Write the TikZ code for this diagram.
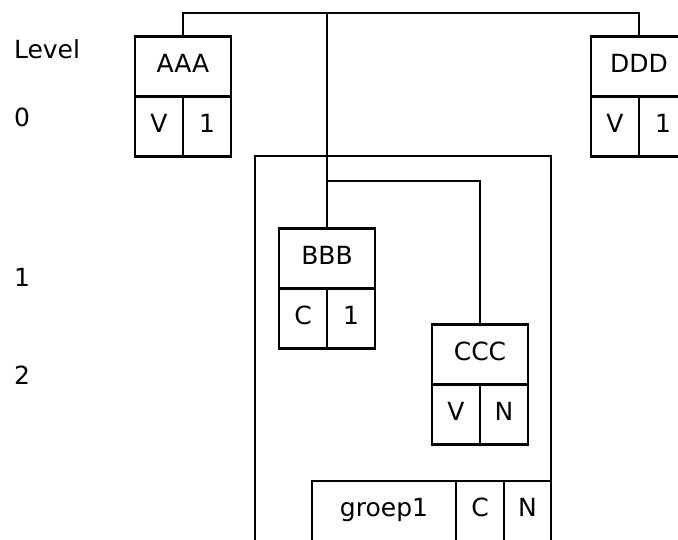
\documentclass[tikz,border=0pt]{standalone}
\usepackage{fontspec}
\setmainfont{DejaVu Sans}
\begin{document}
\begin{tikzpicture}[x=1pt,y=-1pt,
  line width=2.1pt,
  cell/.style={draw, line width=2.1pt, inner sep=0pt, minimum height=60pt,
    text height=18pt, text depth=7pt, font=\fontsize{25}{28}\selectfont},
  wide/.style={cell, minimum width=96pt},
  half/.style={cell, minimum width=48pt},
  lbl/.style={anchor=base west, inner sep=0pt, font=\fontsize{25}{28}\selectfont}]
\clip (0,0) rectangle (678,539);
\fill[white] (0,0) rectangle (678,539);

% level labels
\node[lbl] (lvl) at (13,58.3) {Level};
\node[lbl] (l0) at (13,126.7) {0};
\node[lbl] (l1) at (13,286.7) {1};
\node[lbl] (l2) at (13,384) {2};

% outer group frame (open at bottom)
\coordinate (fbl) at (255,560);
\coordinate (fbr) at (551,560);
\draw (fbl) |- (fbr |- 0,156) -- (fbr);

% AAA
\node[wide] (aaaT) at (183,66.5) {AAA};
\node[half] (aaaL) at (159,126.5) {V};
\node[half] (aaaR) at (207,126.5) {1};
% DDD
\node[wide] (dddT) at (639,66.5) {DDD};
\node[half] (dddL) at (615,126.5) {V};
\node[half] (dddR) at (663,126.5) {1};
% BBB
\node[wide] (bbbT) at (327,258.5) {BBB};
\node[half] (bbbL) at (303,318.5) {C};
\node[half] (bbbR) at (351,318.5) {1};
% CCC
\node[wide] (cccT) at (480,354.5) {CCC};
\node[half] (cccL) at (456,414.5) {V};
\node[half] (cccR) at (504,414.5) {N};
% groep1 row
\node[cell, minimum width=144pt] (g1) at (384,511) {groep1};
\node[half] (g1C) at (480,511) {C};
\node[cell, minimum width=47pt] (g1N) at (527.5,511) {N};

% connectors
\coordinate (j1) at (327,13);
\coordinate (j2) at (327,181);
\draw (aaaT.north) -- (aaaT.north |- j1) -- (dddT.north |- j1) -- (dddT.north);
\draw (j1) -- (bbbT.north);
\draw (j2) -| (cccT.north);
\end{tikzpicture}
\end{document}
